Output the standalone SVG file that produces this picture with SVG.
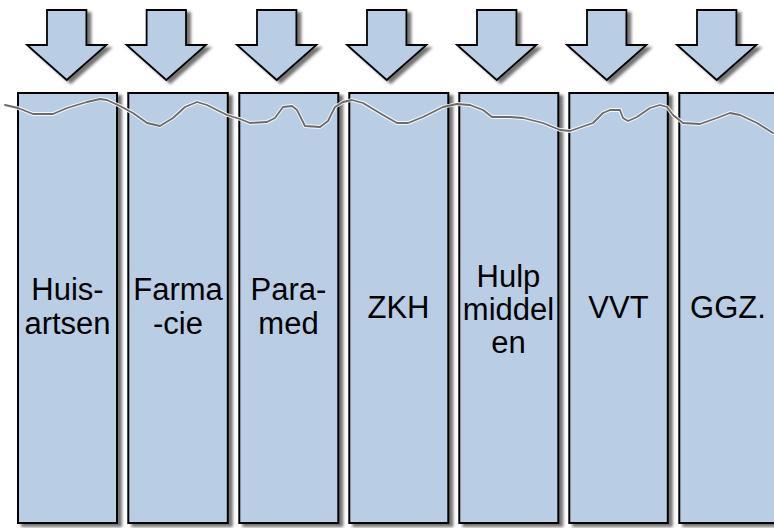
<svg xmlns="http://www.w3.org/2000/svg" width="774" height="528" viewBox="0 0 774 528">
  <defs>
    <filter id="shadow" x="-20%" y="-20%" width="140%" height="140%">
      <feDropShadow dx="4" dy="3" stdDeviation="1.8" flood-color="#000" flood-opacity="0.55"/>
    </filter>
    <polygon id="arrow" points="-19.7,10 19.7,10 19.7,45 39.7,45 0,80 -39.7,45 -19.7,45"/>
  </defs>
  <style>
    .col { fill: #b9cde5; stroke: #000; stroke-width: 2; filter: url(#shadow); }
    .arr { fill: #b9cde5; stroke: #000; stroke-width: 1.8; stroke-linejoin: miter; filter: url(#shadow); }
    .lbl { font-family: "Liberation Sans", Arial, sans-serif; font-size: 31px; fill: #000; text-anchor: middle; }
    .wave-halo { fill: none; stroke: #ffffff; stroke-opacity: 0.85; stroke-width: 3.8; stroke-linejoin: round; stroke-linecap: round; }
    .wave { fill: none; stroke: #6a6a6a; stroke-width: 1.8; stroke-linejoin: round; stroke-linecap: round; }
  </style>
  <rect width="774" height="528" fill="#ffffff"/>

  <!-- incoming block arrows -->
  <g id="arrows">
    <g id="arrow-1" class="arr"><use href="#arrow" x="66.7"/></g>
    <g id="arrow-2" class="arr"><use href="#arrow" x="166.3"/></g>
    <g id="arrow-3" class="arr"><use href="#arrow" x="276.7"/></g>
    <g id="arrow-4" class="arr"><use href="#arrow" x="386.7"/></g>
    <g id="arrow-5" class="arr"><use href="#arrow" x="496.7"/></g>
    <g id="arrow-6" class="arr"><use href="#arrow" x="606.7"/></g>
    <g id="arrow-7" class="arr"><use href="#arrow" x="716.7"/></g>
  </g>

  <!-- sector columns -->
  <g id="huisartsen">
    <rect class="col" x="18" y="93" width="99" height="430"/>
    <text class="lbl"><tspan x="67.5" y="300">Huis-</tspan><tspan x="67.5" y="334">artsen</tspan></text>
  </g>
  <g id="farmacie">
    <rect class="col" x="128.3" y="93" width="99.5" height="430"/>
    <text class="lbl"><tspan x="178" y="300">Farma</tspan><tspan x="178" y="334">-cie</tspan></text>
  </g>
  <g id="paramed">
    <rect class="col" x="239.3" y="93" width="99" height="430"/>
    <text class="lbl"><tspan x="288.5" y="300">Para-</tspan><tspan x="288.5" y="334">med</tspan></text>
  </g>
  <g id="zkh">
    <rect class="col" x="349.3" y="93" width="99" height="430"/>
    <text class="lbl" x="398.5" y="318">ZKH</text>
  </g>
  <g id="hulpmiddelen">
    <rect class="col" x="459.3" y="93" width="99" height="430"/>
    <text class="lbl"><tspan x="508.5" y="287">Hulp</tspan><tspan x="508.5" y="320">middel</tspan><tspan x="508.5" y="353">en</tspan></text>
  </g>
  <g id="vvt">
    <rect class="col" x="569.3" y="93" width="98.5" height="430"/>
    <text class="lbl" x="618.5" y="318">VVT</text>
  </g>
  <g id="ggz">
    <rect class="col" x="679.3" y="93" width="99" height="430"/>
    <text class="lbl" x="728" y="318">GGZ.</text>
  </g>

  <!-- wavy boundary line across the columns -->
  <g id="connectors">
    <polyline class="wave-halo" points="5,105 18,108 33,114 53,114 67,108 87,102 100,99 107,100 120,106 133,113 147,123 160,126 173,118 185,107 197,102 207,105 227,115 240,119 250,123 267,122 275,118 283,107 292,106 297,110 305,126 320,127 328,121 335,107 343,102 352,100 363,103 383,115 397,123 408,123 423,117 443,107 457,104 470,105 483,110 492,117 510,117 523,118 543,123 560,130 570,131 593,123 603,113 610,110 620,110 623,118 628,121 637,117 650,108 660,105 667,107 673,115 683,123 700,124 717,118 730,113 740,115 757,123 773,133"/>
    <polyline class="wave" points="5,105 18,108 33,114 53,114 67,108 87,102 100,99 107,100 120,106 133,113 147,123 160,126 173,118 185,107 197,102 207,105 227,115 240,119 250,123 267,122 275,118 283,107 292,106 297,110 305,126 320,127 328,121 335,107 343,102 352,100 363,103 383,115 397,123 408,123 423,117 443,107 457,104 470,105 483,110 492,117 510,117 523,118 543,123 560,130 570,131 593,123 603,113 610,110 620,110 623,118 628,121 637,117 650,108 660,105 667,107 673,115 683,123 700,124 717,118 730,113 740,115 757,123 773,133"/>
  </g>
</svg>
